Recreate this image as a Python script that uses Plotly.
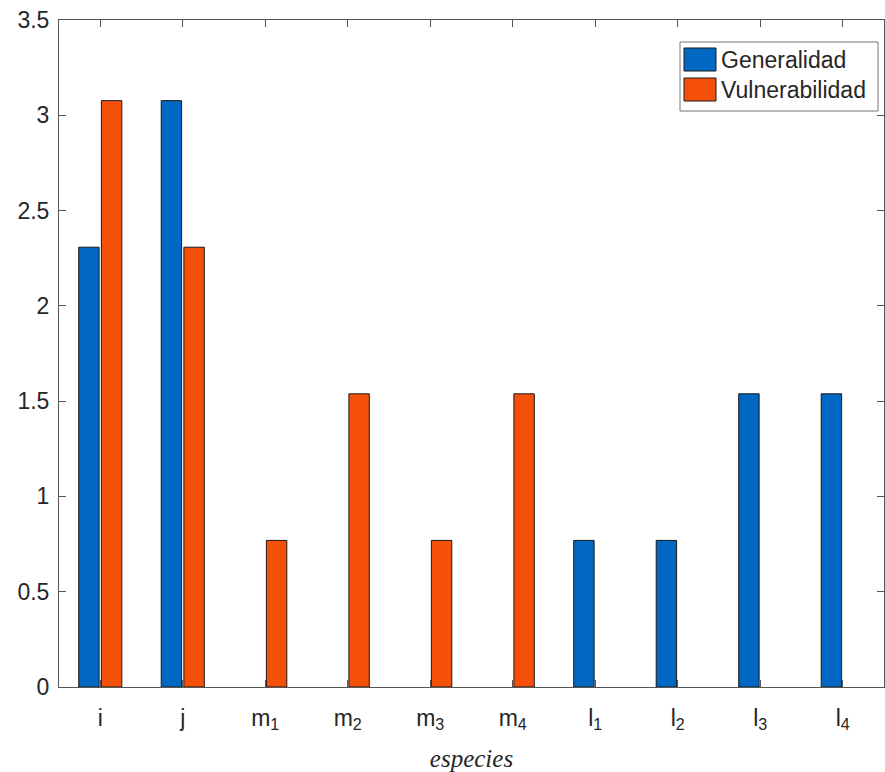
import plotly.graph_objects as go

categories = ["i", "j", "m<sub>1</sub>", "m<sub>2</sub>", "m<sub>3</sub>", "m<sub>4</sub>",
              "l<sub>1</sub>", "l<sub>2</sub>", "l<sub>3</sub>", "l<sub>4</sub>"]
series_names = ["Generalidad", "Vulnerabilidad"]
generalidad = [2.3077, 3.0769, 0, 0, 0, 0, 0.7692, 0.7692, 1.5385, 1.5385]
vulnerabilidad = [3.0769, 2.3077, 0.7692, 1.5385, 0.7692, 1.5385, 0, 0, 0, 0]
y_ticks = [0, 0.5, 1, 1.5, 2, 2.5, 3, 3.5]

BLUE = "#0068C2"
ORANGE = "#F5500A"
EDGE = "#1a1a1a"
TEXT = "#262626"
AXIS = "#555555"

x = list(range(len(categories)))

fig = go.Figure()
for name, vals, col in zip(series_names, [generalidad, vulnerabilidad], [BLUE, ORANGE]):
    fig.add_trace(go.Bar(x=x, y=vals, name=name, showlegend=False,
                         marker=dict(color=col,
                                     line=dict(color=EDGE, width=[1 if v else 0 for v in vals]))))

axis_common = dict(showline=True, linecolor=AXIS, linewidth=1, mirror="ticks",
                   ticks="inside", ticklen=7, tickcolor=AXIS, showgrid=False,
                   zeroline=False, automargin=False,
                   tickfont=dict(family="Liberation Sans, Arial", size=23, color=TEXT))

W, H = 885, 772
ml, mr, mt, mb = 59, 1, 20, 85
pw, ph = W - ml - mr, H - mt - mb

def px(xp):
    return (xp - ml) / pw

def py(yp):
    return 1 - (yp - mt) / ph

shapes = [dict(type="rect", xref="paper", yref="paper",
               x0=px(680), x1=px(878), y0=py(111), y1=py(42),
               line=dict(color="#777777", width=1), fillcolor="white", layer="above")]
annotations = []
for i, (name, col) in enumerate(zip(series_names, [BLUE, ORANGE])):
    top = 48 + i * 30
    shapes.append(dict(type="rect", xref="paper", yref="paper",
                       x0=px(684), x1=px(716), y0=py(top + 23), y1=py(top),
                       line=dict(color=EDGE, width=1), fillcolor=col, layer="above"))
    annotations.append(dict(xref="paper", yref="paper", x=px(719), y=py(top + 12),
                            xanchor="left", yanchor="middle", showarrow=False, text=name,
                            font=dict(family="Liberation Sans, Arial", size=23, color=TEXT)))

fig.update_layout(
    width=W, height=H,
    margin=dict(l=ml, r=mr, t=mt, b=mb),
    plot_bgcolor="white", paper_bgcolor="white",
    barmode="group", bargap=0.45, bargroupgap=0.1,
    xaxis=dict(tickvals=x, ticktext=categories, range=[-0.5, 9.5],
               ticklabelstandoff=10,
               title=dict(text="<i>especies</i>",
                          font=dict(family="Liberation Serif", size=25, color=TEXT),
                          standoff=18),
               **axis_common),
    yaxis=dict(range=[0, 3.5], tickvals=y_ticks, ticktext=[str(t) for t in y_ticks],
               ticklabelstandoff=4, **axis_common),
    shapes=shapes, annotations=annotations,
    showlegend=False,
)

fig.write_html("out.html", config={"displayModeBar": False},
               post_script="document.body.style.margin='0px';")
